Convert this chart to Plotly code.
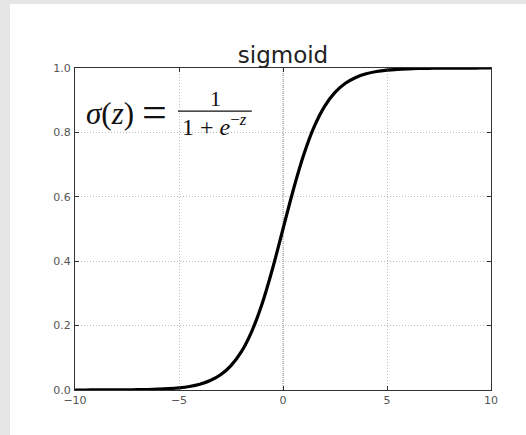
import plotly.graph_objects as go

# sampled points of the logistic curve
z_vals = [-10, -9.5, -9, -8.5, -8, -7.5, -7, -6.5, -6, -5.5, -5, -4.5, -4, -3.5,
          -3, -2.5, -2, -1.5, -1, -0.5, 0, 0.5, 1, 1.5, 2, 2.5, 3, 3.5, 4, 4.5,
          5, 5.5, 6, 6.5, 7, 7.5, 8, 8.5, 9, 9.5, 10]
sig_vals = [0.00005, 0.00007, 0.00012, 0.0002, 0.00034, 0.00055, 0.00091, 0.0015,
            0.0025, 0.0041, 0.0067, 0.011, 0.018, 0.0293, 0.0474, 0.0759, 0.1192,
            0.1824, 0.2689, 0.3775, 0.5, 0.6225, 0.7311, 0.8176, 0.8808, 0.9241,
            0.9526, 0.9707, 0.982, 0.989, 0.9933, 0.9959, 0.9975, 0.9985, 0.99909,
            0.99945, 0.99966, 0.9998, 0.99988, 0.99993, 0.99995]

x_ticks = [-10, -5, 0, 5, 10]
x_tick_text = ["\u221210", "\u22125", "0", "5", "10"]
y_ticks = [0.0, 0.2, 0.4, 0.6, 0.8, 1.0]
y_tick_text = ["0.0", "0.2", "0.4", "0.6", "0.8", "1.0"]

fig = go.Figure()
fig.add_trace(go.Scatter(
    x=z_vals, y=sig_vals, mode="lines",
    line=dict(color="black", width=3.2, shape="spline", smoothing=0.8),
    hoverinfo="skip", showlegend=False,
))

grid_color = "#bdbdbd"
axis_common = dict(
    showline=True, linecolor="#333", linewidth=1.2, mirror="allticks",
    ticks="inside", ticklen=4, tickcolor="#333",
    showgrid=True, gridcolor=grid_color, griddash="1px,2px", gridwidth=1,
    zeroline=False,
)

tick_font = dict(family="DejaVu Sans", size=11, color="#555")
fig.update_xaxes(range=[-10, 10], tickvals=x_ticks, ticktext=x_tick_text,
                 tickfont=tick_font, **axis_common)
fig.update_yaxes(range=[0, 1], tickvals=y_ticks, ticktext=y_tick_text,
                 tickfont=tick_font, ticklabelstandoff=1, **axis_common)

# darker dotted line along z = 0
fig.add_shape(type="line", x0=0, x1=0, y0=0, y1=1, xref="x", yref="y",
              line=dict(color="#8a8a8a", width=1, dash="1px,1px"), layer="below")

# formula: sigma(z) = 1 / (1 + e^-z)
serif = "Liberation Serif"
fig.add_annotation(x=-9.56, y=0.86, xref="x", yref="y", xanchor="left",
                   yanchor="middle", showarrow=False,
                   text="<i>\u03c3</i>(<i>z</i>)",
                   font=dict(family=serif, size=31, color="#111"))
fig.add_annotation(x=-6.2, y=0.862, xref="x", yref="y", xanchor="center",
                   yanchor="middle", showarrow=False, text="=",
                   font=dict(family=serif, size=44, color="#111"))
fig.add_annotation(x=-3.25, y=0.905, xref="x", yref="y", xanchor="center",
                   yanchor="middle", showarrow=False, text="1",
                   font=dict(family=serif, size=22, color="#111"))
fig.add_shape(type="line", x0=-5.05, x1=-1.5, y0=0.866, y1=0.866,
              xref="x", yref="y", line=dict(color="#111", width=1.2))
fig.add_annotation(x=-3.3, y=0.822, xref="x", yref="y", xanchor="center",
                   yanchor="middle", showarrow=False,
                   text="1 + <i>e</i><sup>\u2212<i>z</i></sup>",
                   font=dict(family=serif, size=24, color="#111"))

# light frame strips on the left and top edges
fig.add_shape(type="rect", xref="paper", yref="paper",
              x0=-75/416, x1=-65/416, y0=-45/322, y1=(322+68)/322,
              fillcolor="#e6e6e6", line_width=0, layer="above")
fig.add_shape(type="rect", xref="paper", yref="paper",
              x0=-75/416, x1=(416+35)/416, y0=(322+64)/322, y1=(322+68)/322,
              fillcolor="#e6e6e6", line_width=0, layer="above")

fig.update_layout(
    width=526, height=435,
    margin=dict(l=75, r=35, t=68, b=45),
    paper_bgcolor="white", plot_bgcolor="white",
    title=dict(text="sigmoid", x=(75 + 208) / 526, xanchor="center",
               y=1 - 63 / 435, yanchor="bottom",
               font=dict(family="DejaVu Sans", size=23, color="#222")),
)

fig.write_html("out.html")
